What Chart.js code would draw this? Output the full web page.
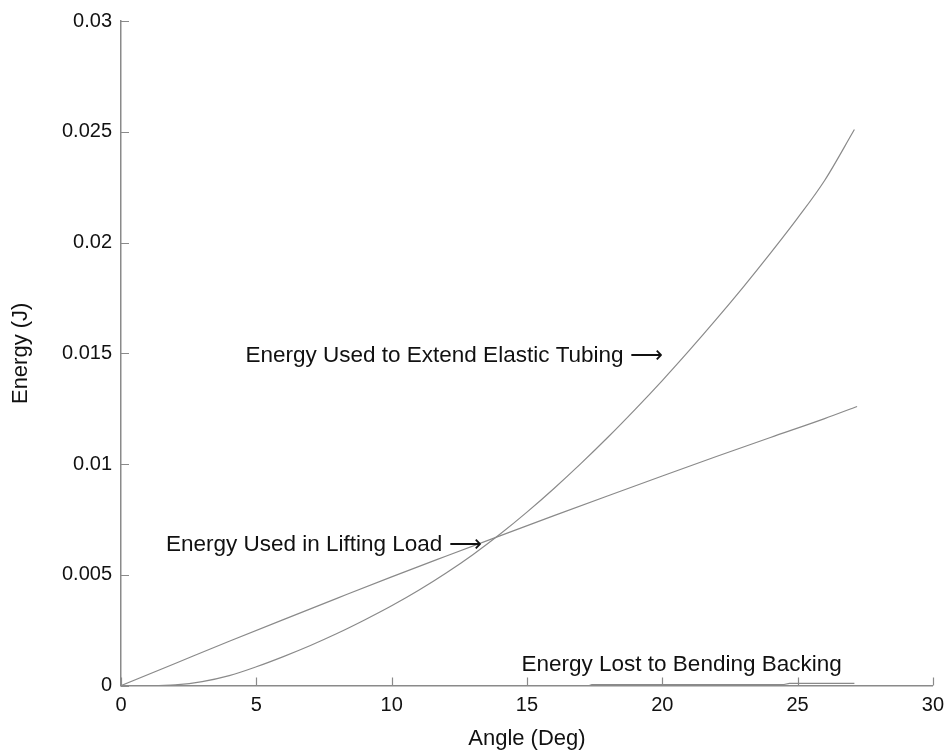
<!DOCTYPE html>
<html lang="en">
<head>
  <meta charset="UTF-8">
  <title>Energy vs Angle</title>
  <script src="https://cdn.jsdelivr.net/npm/chart.js"></script>
  <style>
    body {
      margin: 0;
      background: #ffffff;
    }
    .wrap {
      width: 952px;
      height: 754px;
    }
  </style>
</head>
<body>
  <div class="wrap"><canvas id="energyChart" width="952" height="754"></canvas></div>

  <script>
    // values
    const liftAngles   = [0, 2, 4, 6, 8, 10, 12, 14, 16, 18, 20, 22, 24, 26, 27.2];
    const liftEnergy   = [0, 0.001, 0.002, 0.00298, 0.00395, 0.00491, 0.00584, 0.00676, 0.00767, 0.00857, 0.00946, 0.01034, 0.0112, 0.01205, 0.0126];

    const tubeAngles   = [1.4, 2, 3, 4, 5, 6, 7, 8, 9, 10, 11, 12, 13, 14, 15, 16, 17, 18, 19, 20, 21, 22, 23, 24, 25, 26, 27.1];
    const tubeEnergy   = [0, 0.00003, 0.00018, 0.00045, 0.00085, 0.00131, 0.00181, 0.00236, 0.00296, 0.0036, 0.0043, 0.00507, 0.00591, 0.00683, 0.00783, 0.0089, 0.01003, 0.01122, 0.01247, 0.01377, 0.01513, 0.01654, 0.018, 0.01952, 0.0211, 0.0228, 0.0251];

    const bendAngles   = [0, 17.3, 17.4, 24.5, 24.7, 27.1];
    const bendEnergy   = [0, 0, 0.00005, 0.00005, 0.0001, 0.0001];

    const xTicks = [0, 5, 10, 15, 20, 25, 30];
    const yTicks = [0, 0.005, 0.01, 0.015, 0.02, 0.025, 0.03];

    // text notes, placed in data units (left edge x, middle y)
    const noteTexts  = ['Energy Used to Extend Elastic Tubing \u27F6', 'Energy Used in Lifting Load \u27F6', 'Energy Lost to Bending Backing'];
    const noteAngles = [4.6, 1.66, 14.8];
    const noteEnergy = [0.0149, 0.00637, 0.00094];

    const FONT = '"Liberation Sans", Arial, sans-serif';
    const LINE = '#8a8a8a';

    function pairs(xs, ys) {
      return xs.map((x, i) => ({ x: x, y: ys[i] }));
    }

    const notesAndTicks = {
      id: 'notesAndTicks',
      afterDraw(chart) {
        const ctx = chart.ctx;
        const xs = chart.scales.x;
        const ys = chart.scales.y;
        const area = chart.chartArea;
        ctx.save();
        // inward tick marks
        ctx.strokeStyle = LINE;
        ctx.lineWidth = 1.2;
        ctx.beginPath();
        xTicks.forEach(v => {
          const px = Math.round(xs.getPixelForValue(v)) + 0.5;
          ctx.moveTo(px, area.bottom);
          ctx.lineTo(px, area.bottom - 8);
        });
        yTicks.forEach(v => {
          const py = Math.round(ys.getPixelForValue(v)) + 0.5;
          ctx.moveTo(area.left, py);
          ctx.lineTo(area.left + 8, py);
        });
        ctx.stroke();
        // notes
        ctx.fillStyle = '#111';
        ctx.font = '22.5px ' + FONT;
        ctx.textBaseline = 'middle';
        ctx.textAlign = 'left';
        noteTexts.forEach((t, i) => {
          ctx.fillText(t, xs.getPixelForValue(noteAngles[i]), ys.getPixelForValue(noteEnergy[i]));
        });
        ctx.restore();
      }
    };

    new Chart(document.getElementById('energyChart'), {
      type: 'scatter',
      data: {
        datasets: [
          { label: 'Lifting Load', data: pairs(liftAngles, liftEnergy) },
          { label: 'Elastic Tubing', data: pairs(tubeAngles, tubeEnergy) },
          { label: 'Bending Backing', data: pairs(bendAngles, bendEnergy), cubicInterpolationMode: 'default', tension: 0 }
        ].map(d => Object.assign({
          showLine: true,
          borderColor: LINE,
          borderWidth: 1.2,
          pointRadius: 0,
          cubicInterpolationMode: 'monotone',
          fill: false
        }, d))
      },
      options: {
        responsive: false,
        animation: false,
        layout: { padding: { top: 20, right: 16, left: 0, bottom: 2 } },
        plugins: {
          legend: { display: false },
          tooltip: { enabled: false }
        },
        scales: {
          x: {
            type: 'linear',
            min: 0,
            max: 30,
            afterBuildTicks: s => { s.ticks = xTicks.map(v => ({ value: v })); },
            grid: { display: false, drawTicks: false },
            border: { display: true, color: LINE, width: 1.5 },
            ticks: { color: '#111', font: { family: FONT, size: 20 }, padding: 8 },
            title: { display: true, text: 'Angle (Deg)', color: '#111', font: { family: FONT, size: 22 }, padding: { top: 0, bottom: 0 } }
          },
          y: {
            type: 'linear',
            min: 0,
            max: 0.03,
            afterBuildTicks: s => { s.ticks = yTicks.map(v => ({ value: v })); },
            afterFit: s => { s.width = 121; },
            grid: { display: false, drawTicks: false },
            border: { display: true, color: LINE, width: 1.5 },
            ticks: { color: '#111', font: { family: FONT, size: 20 }, padding: 9, callback: v => String(v) },
            title: { display: true, text: 'Energy (J)', color: '#111', font: { family: FONT, size: 22 }, padding: { top: 8, bottom: 0 } }
          }
        }
      },
      plugins: [notesAndTicks]
    });
  </script>
</body>
</html>
